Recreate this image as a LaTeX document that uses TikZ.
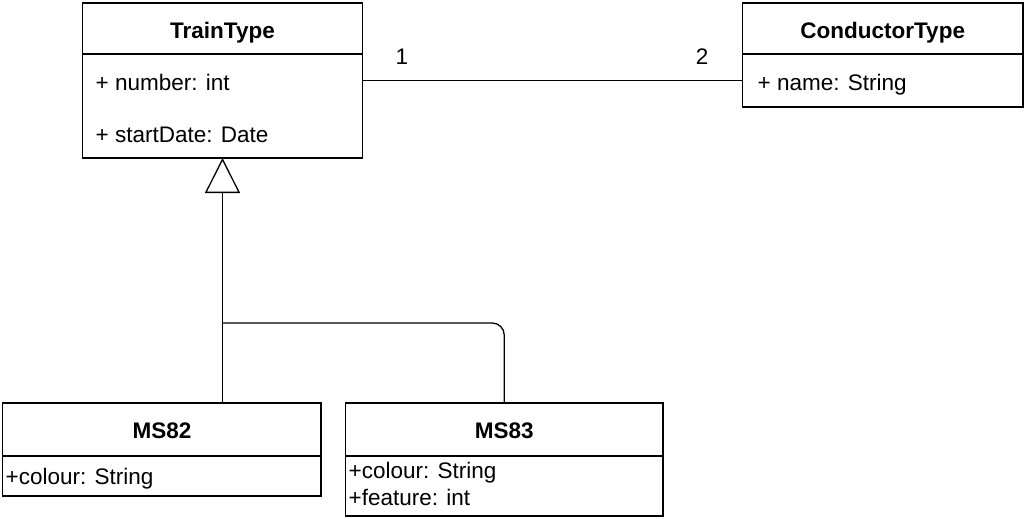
\documentclass[tikz,border=0pt]{standalone}
\usepackage{fontspec}
\setmainfont{Liberation Sans}
\usetikzlibrary{arrows.meta}
\begin{document}
\begin{tikzpicture}[x=1pt,y=-1pt, line width=1.3pt,
  box/.style={draw, anchor=north west, inner sep=0pt, outer sep=0pt},
  ttl/.style={font=\fontsize{22.5}{27}\selectfont\bfseries, anchor=base, inner sep=0pt},
  attr/.style={font=\fontsize{22.5}{27}\selectfont, anchor=base west, inner sep=0pt},
  lbl/.style={font=\fontsize{22.5}{27}\selectfont, anchor=base, inner sep=0pt},
  gen/.style={-{Triangle[open,length=35pt,width=35pt]}}]
\useasboundingbox (0,0) rectangle (1025,519);
% TrainType
\node[box, minimum width=280pt, minimum height=155pt] (train) at (82.5,3) {};
\draw (82.5,54) -- (362.5,54);
\node[ttl] (trainT) at (222.5,38.5) {TrainType};
\node[attr] (trainA1) at (95,90) {+ number: int};
\node[attr] (trainA2) at (95,142) {+ startDate: Date};
% ConductorType
\node[box, minimum width=280.5pt, minimum height=104pt] (cond) at (742.5,3) {};
\draw (742.5,54) -- (1023,54);
\node[ttl] (condT) at (882.7,38.5) {ConductorType};
\node[attr] (condA1) at (757,90) {+ name: String};
% MS82
\node[box, minimum width=318.5pt, minimum height=93pt] (ms82) at (2.5,403) {};
\draw (2.5,456) -- (321,456);
\node[ttl] (ms82T) at (162,438) {MS82};
\node[attr] (ms82A1) at (5,484) {+colour: String};
% MS83
\node[box, minimum width=317.5pt, minimum height=113pt] (ms83) at (345.5,403) {};
\draw (345.5,456) -- (663,456);
\node[ttl] (ms83T) at (504.3,438) {MS83};
\node[attr] (ms83A1) at (348,478) {+colour: String};
\node[attr] (ms83A2) at (348,505) {+feature: int};
% association
\draw (train.east) -- (train.east -| cond.west);
\node[lbl] (m1) at (402,65) {1};
\node[lbl] (m2) at (702,65) {2};
% generalization
\coordinate (j) at (222.5,323);
\draw[gen] (ms82.north -| train.south) -- (train.south);
\draw[rounded corners=12pt] (j) -- (j -| ms83.north) -- (ms83.north);
\end{tikzpicture}
\end{document}
